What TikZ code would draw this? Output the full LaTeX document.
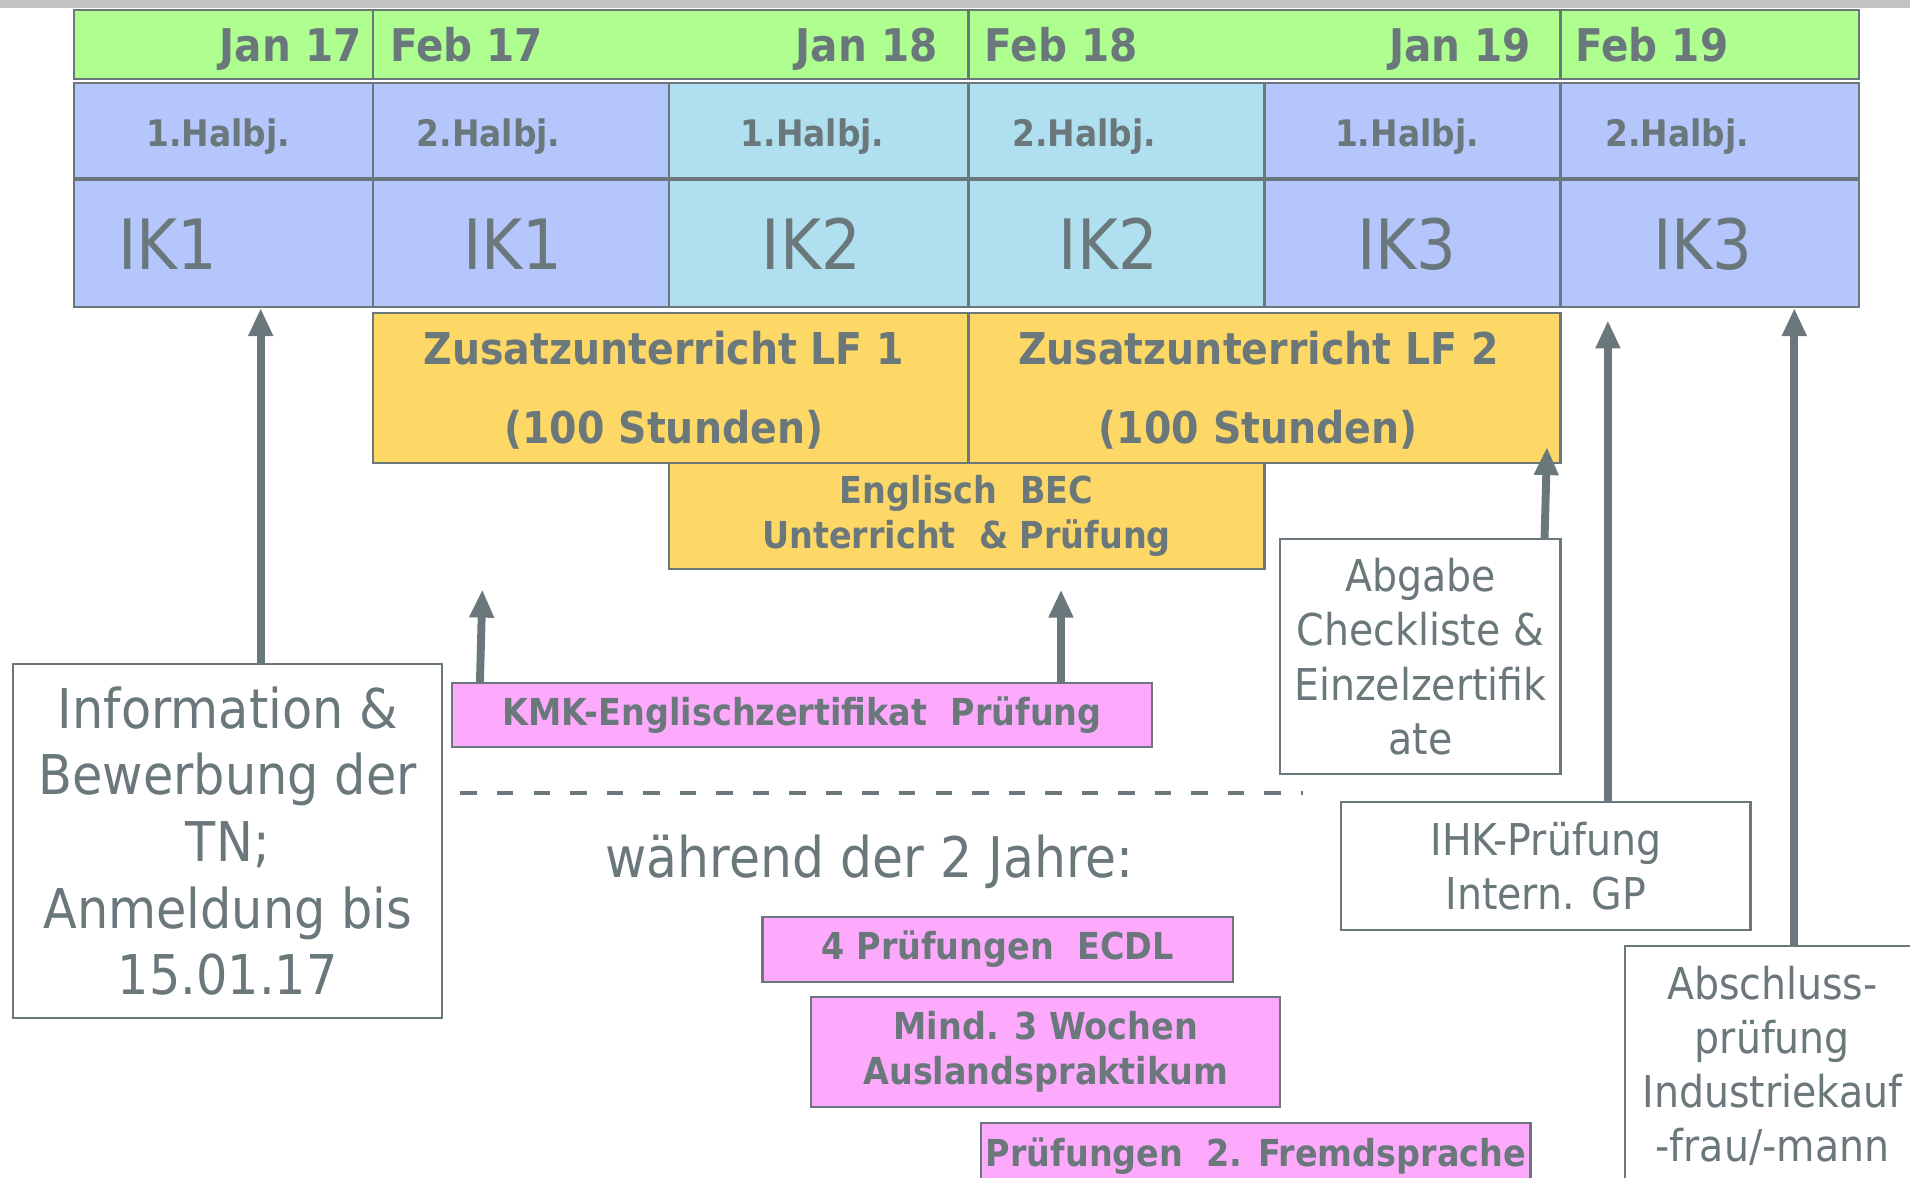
\documentclass[tikz,border=0pt]{standalone}
\usepackage{fontspec}
\setmainfont[FakeStretch=0.9]{DejaVu Sans}
\usetikzlibrary{arrows.meta}
\definecolor{txt}{RGB}{106,120,124}
\definecolor{bandgray}{RGB}{194,194,194}
\definecolor{lgreen}{RGB}{174,255,144}
\definecolor{peri}{RGB}{180,198,252}
\definecolor{lblue}{RGB}{176,224,240}
\definecolor{yel}{RGB}{254,216,102}
\definecolor{pink}{RGB}{253,170,253}
\tikzset{
  cell/.style={draw=txt, line width=1.8pt, inner sep=0pt},
  box/.style={draw=txt, line width=1.8pt, inner sep=0pt, align=center, text=txt},
  datetxt/.style={text=txt, inner sep=0pt, font=\fontsize{37}{40}\selectfont\bfseries},
  halbtxt/.style={text=txt, inner sep=0pt, anchor=base, font=\fontsize{30}{34}\selectfont\bfseries},
  iktxt/.style={text=txt, inner sep=0pt, anchor=base, font=\fontsize{57}{60}\selectfont},
  bigbold/.style={font=\fontsize{36}{65}\selectfont\bfseries},
  smallbold/.style={font=\fontsize{30.5}{37}\selectfont\bfseries},
  regbig/.style={font=\fontsize{45}{54.7}\selectfont},
  regmid/.style={font=\fontsize{36}{44.5}\selectfont},
  arr/.style={draw=txt, line width=6.5pt, -{Triangle[length=23pt,width=19pt]}},
}
\begin{document}
\begin{tikzpicture}[x=1pt,y=-1pt]
\useasboundingbox (0,0) rectangle (1568,967);
\fill[bandgray] (0,0) rectangle (1568,6.5);

% green date row
\node[cell, fill=lgreen, minimum width=245pt, minimum height=57pt] (g1) at (183.5,36.5) {};
\node[cell, fill=lgreen, minimum width=489pt, minimum height=57pt] (g2) at (550.5,36.5) {};
\node[cell, fill=lgreen, minimum width=486pt, minimum height=57pt] (g3) at (1038,36.5) {};
\node[cell, fill=lgreen, minimum width=245pt, minimum height=57pt] (g4) at (1403.5,36.5) {};
\node[datetxt, anchor=base east] (d1) at (297,50.5) {Jan 17};
\node[datetxt, anchor=base west] (d2) at (320,50.5) {Feb 17};
\node[datetxt, anchor=base east] (d3) at (770,50.5) {Jan 18};
\node[datetxt, anchor=base west] (d4) at (808,50.5) {Feb 18};
\node[datetxt, anchor=base east] (d5) at (1257,50.5) {Jan 19};
\node[datetxt, anchor=base west] (d6) at (1293,50.5) {Feb 19};

% half-year row and IK row
\foreach \i/\l/\r/\c in {1/61/306/peri,2/306/549/peri,3/549/795/lblue,4/795/1038/lblue,5/1038/1281/peri,6/1281/1526/peri}{
  \node[cell, fill=\c, minimum width={\r-\l}, minimum height=78pt] (r2c\i) at ({(\l+\r)/2},107) {};
  \node[cell, fill=\c, minimum width={\r-\l}, minimum height=104pt] (r3c\i) at ({(\l+\r)/2},200) {};
}
\node[halbtxt] (h1) at (179,120.4) {1.Halbj.};
\node[halbtxt] (h2) at (401,120.4) {2.Halbj.};
\node[halbtxt] (h3) at (667,120.4) {1.Halbj.};
\node[halbtxt] (h4) at (890,120.4) {2.Halbj.};
\node[halbtxt] (h5) at (1155,120.4) {1.Halbj.};
\node[halbtxt] (h6) at (1377,120.4) {2.Halbj.};
\node[iktxt] (k1) at (138,221) {IK1};
\node[iktxt] (k2) at (421,221) {IK1};
\node[iktxt] (k3) at (666,221) {IK2};
\node[iktxt] (k4) at (910,221) {IK2};
\node[iktxt] (k5) at (1155,221) {IK3};
\node[iktxt] (k6) at (1398,221) {IK3};

% yellow boxes
\node[box, fill=yel, minimum width=489pt, minimum height=123pt] (lf1) at (550.5,318.5) {};
\node[box, fill=yel, minimum width=486pt, minimum height=123pt] (lf2) at (1038,318.5) {};
\node[text=txt, inner sep=0pt, align=center, bigbold] (lf1t) at (545,320.5) {Zusatzunterricht LF 1\\(100 Stunden)};
\node[text=txt, inner sep=0pt, align=center, bigbold] (lf2t) at (1033,320.5) {Zusatzunterricht LF 2\\(100 Stunden)};
\node[box, fill=yel, smallbold, minimum width=489pt, minimum height=87pt] (bec) at (793.5,423.5) {Englisch\ \ BEC\\Unterricht\ \ \&\ Prüfung};

% white boxes
\node[box, fill=white, regmid, minimum width=230pt, minimum height=193pt] (abg) at (1166,539) {Abgabe\\Checkliste \&\\Einzelzertifik\\ate};
\node[box, fill=white, regbig, minimum width=352pt, minimum height=291pt] (info) at (187,690.5) {Information \&\\Bewerbung der\\TN;\\Anmeldung bis\\15.01.17};
\node[box, fill=white, regmid, minimum width=336pt, minimum height=105pt] (ihk) at (1269,711) {IHK-Prüfung\\Intern. GP};
\node[box, fill=white, regmid, minimum width=242pt, minimum height=197pt] (absch) at (1455,875) {Abschluss-\\prüfung\\Industriekauf\\-frau/-mann};

% pink boxes
\node[box, fill=pink, smallbold, minimum width=575pt, minimum height=52pt] (kmk) at (658.5,587) {KMK-Englischzertifikat\ \ Prüfung};
\node[box, fill=pink, smallbold, minimum width=386pt, minimum height=53pt] (ecdl) at (819,779.5) {4 Prüfungen\ \ ECDL};
\node[box, fill=pink, smallbold, minimum width=385pt, minimum height=90pt] (mind) at (858.5,863.5) {Mind. 3 Wochen\\Auslandspraktikum};
\node[box, fill=pink, smallbold, minimum width=451pt, minimum height=54pt] (fremd) at (1031,949) {Prüfungen\ \ 2. Fremdsprache};

% caption
\node[text=txt, inner sep=0pt, anchor=base, font=\fontsize{46}{50}\selectfont] (waehrend) at (714,720) {während der 2 Jahre:};

% dashed separator
\draw[txt, line width=3.8pt, dash pattern=on 13.5pt off 16.5pt] (378,651) -- (1070,651);

% arrow coordinates
\coordinate (x1) at (214,0);
\coordinate (x2a) at (394,0);
\coordinate (t2) at (396,484);
\coordinate (x3) at (871,0);
\coordinate (t3) at (871,484);
\coordinate (x4) at (1268,0);
\coordinate (t4) at (1270,367);
\coordinate (x5) at (1320,0);
\coordinate (t5) at (1320,263);
\coordinate (x6) at (1473,0);

\draw[arr] (info.north -| x1) -- (r3c1.south -| x1);
\draw[arr] (kmk.north -| x2a) -- (t2);
\draw[arr] (kmk.north -| x3) -- (t3);
\draw[arr] (abg.north -| x4) -- (t4);
\draw[arr] (ihk.north -| x5) -- (t5);
\draw[arr] (absch.north -| x6) -- (r3c6.south -| x6);
\end{tikzpicture}
\end{document}
